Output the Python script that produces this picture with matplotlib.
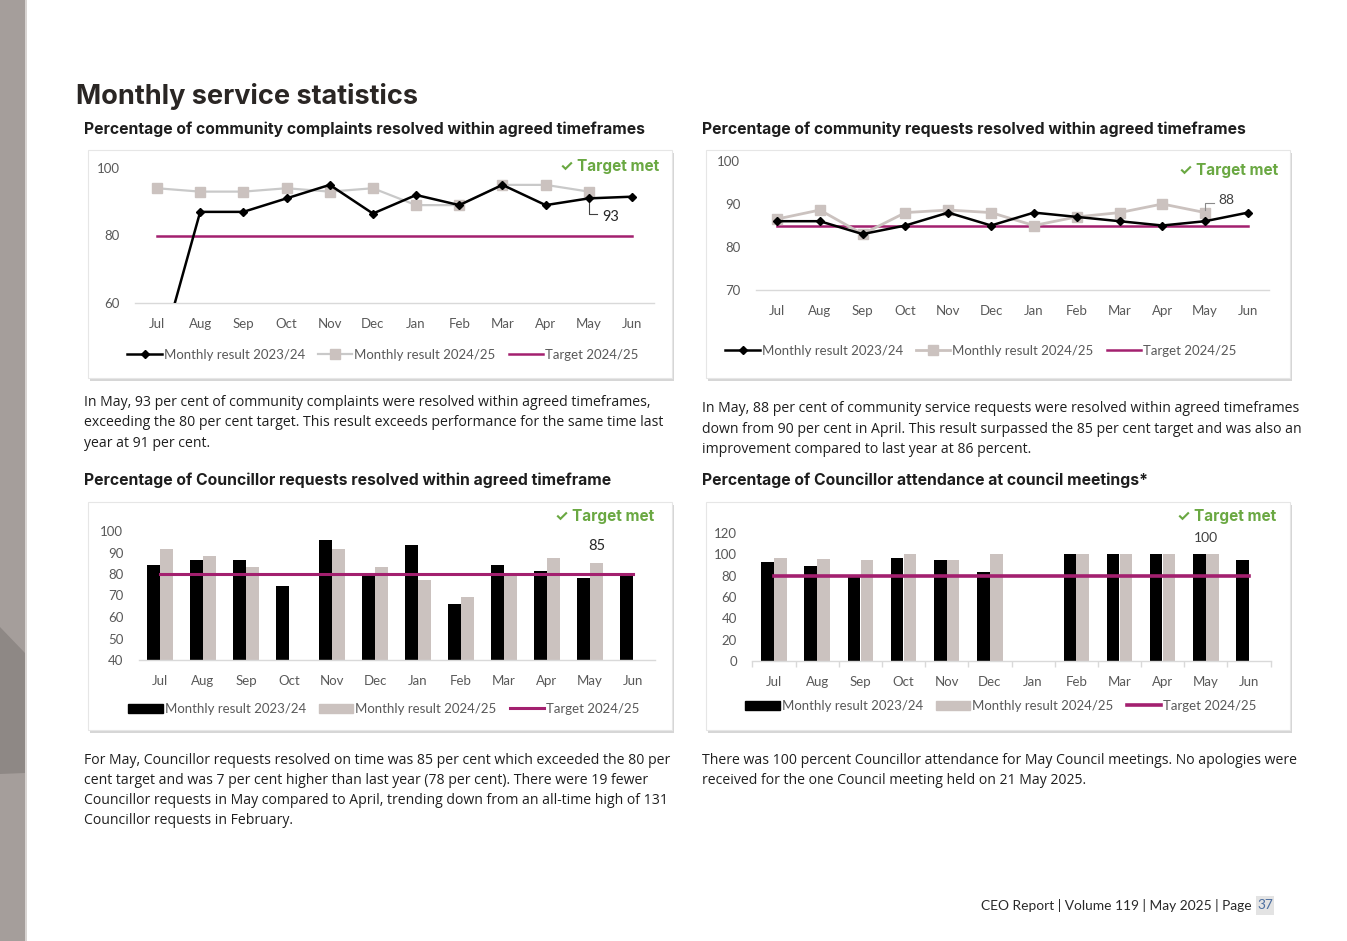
import numpy as np
import matplotlib
matplotlib.use("Agg")
import matplotlib.pyplot as plt
from matplotlib.patches import Rectangle, Polygon
from matplotlib.lines import Line2D

W, H = 1347, 941

months = ["Jul", "Aug", "Sep", "Oct", "Nov", "Dec", "Jan", "Feb", "Mar", "Apr", "May", "Jun"]

# community complaints resolved (%)
complaints_2324 = [41, 87, 87, 91, 95, 86.5, 92, 89, 95, 89, 91, 91.5]
complaints_2425 = [94, 93, 93, 94, 93, 94, 89, 89, 95, 95, 93, np.nan]
complaints_target = 80

# community requests resolved (%)
requests_2324 = [86, 86, 83, 85, 88, 85, 88, 87, 86, 85, 86, 88]
requests_2425 = [86.5, 88.6, 83, 88, 88.6, 88, 85, 87, 88, 90, 88, np.nan]
requests_target = 85

# Councillor requests resolved (%)
councillor_2324 = [84.4, 86.4, 86.7, 74.3, 95.6, 80.3, 93.4, 66.2, 84, 81.4, 78.3, 79.4]
councillor_2425 = [91.4, 88.3, 83.3, np.nan, 91.4, 83.3, 77.4, 69.3, 80, 87.4, 85, np.nan]
councillor_target = 80

# Councillor attendance (%)
attendance_2324 = [92.5, 88.8, 78.5, 96.3, 94.4, 83.5, np.nan, 100, 100, 100, 100, 94.7]
attendance_2425 = [96.3, 96, 94.4, 100, 94.4, 100, np.nan, 100, 100, 100, 100, np.nan]
attendance_target = 80

BLACK = "#000000"
GREY = "#cbc2bf"
GREYLINE = "#c9c9c9"
TARGET = "#a3206f"
GREEN = "#6aa842"
TICK = "#595959"
TXT = "#1e1e1e"

HEAD = ["Inter", "DejaVu Sans"]
BODY = ["Open Sans", "DejaVu Sans"]
CHART = ["Lato", "DejaVu Sans"]

fig = plt.figure(figsize=(W / 100, H / 100), dpi=100)
fig.patch.set_facecolor("white")

# page background in pixel coordinates
bg = fig.add_axes([0, 0, 1, 1])
bg.set_xlim(0, W)
bg.set_ylim(H, 0)
bg.axis("off")

bg.add_patch(Rectangle((0, 0), 25, H, color="#a59e9b", lw=0))
bg.add_patch(Polygon([(0, 627), (25, 653), (25, 773), (0, 774)], closed=True, color="#8e8885", lw=0))
bg.add_patch(Rectangle((25, 0), 1.5, H, color="#d8d4d2", lw=0))

bg.text(76, 96, "Monthly service statistics", fontsize=19.5, fontweight="bold",
        family=HEAD, color="#2a2624", va="center", ha="left")

subheads = [
    (84, 129, "Percentage of community complaints resolved within agreed timeframes"),
    (702, 129, "Percentage of community requests resolved within agreed timeframes"),
    (84, 480, "Percentage of Councillor requests resolved within agreed timeframe"),
    (702, 480, "Percentage of Councillor attendance at council meetings*"),
]
for x, y, s in subheads:
    bg.text(x, y, s, fontsize=11.35, fontweight="bold", family=HEAD, color=TXT, va="center")

paras = [
    (84, 403, ["In May, 93 per cent of community complaints were resolved within agreed timeframes,",
               "exceeding the 80 per cent target. This result exceeds performance for the same time last",
               "year at 91 per cent."]),
    (702, 409, ["In May, 88 per cent of community service requests were resolved within agreed timeframes",
                "down from 90 per cent in April. This result surpassed the 85 per cent target and was also an",
                "improvement compared to last year at 86 percent."]),
    (84, 761, ["For May, Councillor requests resolved on time was 85 per cent which exceeded the 80 per",
               "cent target and was 7 per cent higher than last year (78 per cent). There were 19 fewer",
               "Councillor requests in May compared to April, trending down from an all-time high of 131",
               "Councillor requests in February."]),
    (702, 761, ["There was 100 percent Councillor attendance for May Council meetings. No apologies were",
                "received for the one Council meeting held on 21 May 2025."]),
]
for x, y, lines in paras:
    for i, s in enumerate(lines):
        bg.text(x, y + i * 20, s, fontsize=10.05, family=BODY, color=TXT, va="center")

bg.text(1255, 905, "CEO Report | Volume 119 | May 2025 | Page ", fontsize=9.9, family=CHART,
        color="#2a2a2a", va="center", ha="right")
bg.add_patch(Rectangle((1256, 896), 18, 19, color="#e3e3e3", lw=0))
bg.text(1257, 905, "37", fontsize=9.9, family=CHART, color="#4d6fa0", va="center", ha="left")

# chart frames with a soft shadow
boxes = [(88, 150, 672, 378), (706, 150, 1290, 378), (88, 502, 672, 730), (706, 502, 1290, 730)]
for x0, y0, x1, y1 in boxes:
    bg.add_patch(Rectangle((x0 + 2, y0 + 3), x1 - x0, y1 - y0, color="#d6d6d6", lw=0))
    bg.add_patch(Rectangle((x0, y0), x1 - x0, y1 - y0, facecolor="white", edgecolor="#e6e6e6", lw=0.8))


def px_axes(x0, y0, x1, y1):
    return fig.add_axes([x0 / W, 1 - y1 / H, (x1 - x0) / W, (y1 - y0) / H])


def style(ax, ylim, yticks):
    ax.set_xlim(-0.5, 11.5)
    ax.set_ylim(*ylim)
    ax.set_yticks(yticks)
    ax.set_xticks(range(12))
    ax.set_xticklabels(months)
    ax.patch.set_alpha(0)
    for s in ["top", "right", "left"]:
        ax.spines[s].set_visible(False)
    ax.spines["bottom"].set_color("#d9d9d9")
    ax.spines["bottom"].set_linewidth(1)
    ax.tick_params(axis="both", length=0, labelsize=9.5, labelcolor=TICK)
    ax.tick_params(axis="x", pad=11)
    ax.tick_params(axis="y", pad=11)
    for lab in ax.get_xticklabels() + ax.get_yticklabels():
        lab.set_family(CHART)


def target_met(x, y):
    bg.text(x, y, "\u2713 Target met", fontsize=11, fontweight="bold", family=["Inter", "DejaVu Sans"],
            color=GREEN, va="center", ha="right")


def legend(handles, cx, cy):
    leg = fig.legend(handles=handles, labels=["Monthly result 2023/24", "Monthly result 2024/25", "Target 2024/25"],
                     loc="center", bbox_to_anchor=(cx / W, 1 - cy / H), ncol=3, frameon=False,
                     fontsize=9.5, handlelength=2.6, handletextpad=0.15, columnspacing=1.0, borderpad=0)
    for t in leg.get_texts():
        t.set_color(TICK)
        t.set_family(CHART)


x = np.arange(12)

# chart 1: complaints
ax1 = px_axes(135.4, 168, 653.6, 303)
style(ax1, (60, 100), [60, 80, 100])
ax1.plot(x, [complaints_target] * 12, color=TARGET, lw=1.8, zorder=1)
ax1.plot(x, complaints_2425, color=GREYLINE, lw=1.6, marker="s", ms=6.5, mfc=GREY, mec=GREY, zorder=2)
ax1.plot(x, complaints_2324, color=BLACK, lw=1.8, marker="D", ms=4.5, zorder=3)
ax1.plot([10, 10, 10.2], [91.3, 86.4, 86.4], color="#404040", lw=0.8)
ax1.text(10.3, 85.5, "93", fontsize=10.5, family=CHART, color="#262626", va="center")
target_met(659, 166)
legend([Line2D([], [], color=BLACK, lw=1.8, marker="D", ms=4.5),
        Line2D([], [], color=GREYLINE, lw=1.6, marker="s", ms=6.5, mfc=GREY, mec=GREY),
        Line2D([], [], color=TARGET, lw=1.8)], 383, 355)

# chart 2: requests
ax2 = px_axes(755.6, 161, 1269.4, 290)
style(ax2, (70, 100), [70, 80, 90, 100])
ax2.plot(x, [requests_target] * 12, color=TARGET, lw=1.8, zorder=1)
ax2.plot(x, requests_2425, color=GREY, lw=2, marker="s", ms=6.5, mfc=GREY, mec=GREY, zorder=2)
ax2.plot(x, requests_2324, color=BLACK, lw=1.8, marker="D", ms=4.5, zorder=3)
ax2.plot([10, 10, 10.2], [88.5, 90.3, 90.3], color="#8a8a8a", lw=0.8)
ax2.text(10.3, 90.9, "88", fontsize=10, family=CHART, color="#404040", va="center")
target_met(1278, 170)
legend([Line2D([], [], color=BLACK, lw=1.8, marker="D", ms=4.5),
        Line2D([], [], color=GREY, lw=2, marker="s", ms=6.5, mfc=GREY, mec=GREY),
        Line2D([], [], color=TARGET, lw=1.8)], 981, 351)

# chart 3: Councillor requests
bw = 0.29
ax3 = px_axes(138.5, 531, 654.5, 660)
style(ax3, (40, 100), [40, 50, 60, 70, 80, 90, 100])
ax3.bar(x - 0.15, councillor_2324, bw, color=BLACK, zorder=2)
ax3.bar(x + 0.15, councillor_2425, bw, color=GREY, zorder=2)
ax3.plot(x, [councillor_target] * 12, color=TARGET, lw=2.2, zorder=3)
ax3.text(10.15, 93, "85", fontsize=10.5, family=CHART, color="#262626", va="center", ha="center")
target_met(654, 516)
legend([Rectangle((0, 0), 1, 1, color=BLACK), Rectangle((0, 0), 1, 1, color=GREY),
        Line2D([], [], color=TARGET, lw=2.2)], 384, 709)

# chart 4: Councillor attendance
ax4 = px_axes(752.4, 533, 1270.6, 661)
style(ax4, (0, 120), [0, 20, 40, 60, 80, 100, 120])
ax4.bar(x - 0.15, attendance_2324, bw, color=BLACK, zorder=2)
ax4.bar(x + 0.15, attendance_2425, bw, color=GREY, zorder=2)
ax4.plot(x, [attendance_target] * 12, color=TARGET, lw=2.6, zorder=3)
ax4.set_xticks(np.arange(-0.5, 12, 1), minor=True)
ax4.tick_params(axis="x", which="minor", length=4, color="#d9d9d9", width=1)
ax4.text(10.0, 115.3, "100", fontsize=10, family=CHART, color="#404040", va="center", ha="center")
target_met(1276, 517)
legend([Rectangle((0, 0), 1, 1, color=BLACK), Rectangle((0, 0), 1, 1, color=GREY),
        Line2D([], [], color=TARGET, lw=2.6)], 1001, 706)

fig.savefig("out.png", dpi=100)
